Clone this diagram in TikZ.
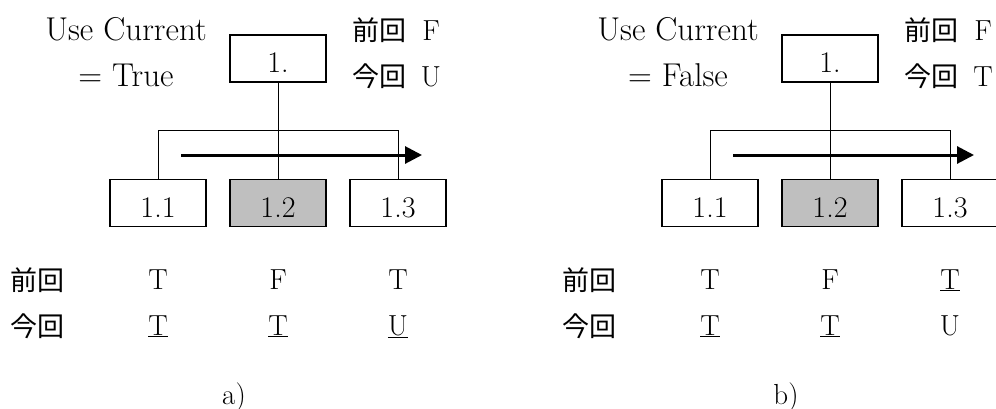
\documentclass[tikz,border=0pt]{standalone}
\usepackage{fontspec}
\newfontfamily\jp{Noto Sans CJK JP}
\usetikzlibrary{arrows.meta}
\tikzset{box/.style={draw, line width=1.2pt, minimum width=96pt, minimum height=47pt,
    inner sep=0pt, text height=28pt, text depth=0pt, font=\fontsize{30}{33}\selectfont},
  txt/.style={anchor=base, inner sep=0pt, font=\fontsize{29}{32}\selectfont},
  big/.style={anchor=base, inner sep=0pt, font=\fontsize{33}{36}\selectfont},
  ja/.style={anchor=base, inner sep=0pt, font=\fontsize{27}{30}\selectfont\jp},
  flow/.style={line width=3pt, -{Triangle[length=17pt,width=17pt]}}}

\begin{document}
\begin{tikzpicture}[x=1pt, y=-1pt]
          \useasboundingbox (0,0) rectangle (996,408);
          % a) Use Current = True
          \node[box] (a1) at (278,58.5) {1.};
          \node[box] (a11) at (158,203) {1.1};
          \node[box, fill=black!25] (a12) at (278,203) {1.2};
          \node[box] (a13) at (398,203) {1.3};
          \draw[line width=1pt] (a1) -- (a12);
          \draw[line width=1pt] (a11.north) -- ++(0,-48) -| (a13.north);
          \coordinate (as) at (181,155);
          \coordinate (ae) at (422,155);
          \draw[flow] (as) -- (ae);
          \node[big] (ause) at (126,40) {Use Current};
          \node[big] (aval) at (126,86) {= True};
          \node[ja]  (aprev) at (379,40) {前回};
          \node[txt] (aprevv) at (431,40) {F};
          \node[ja]  (anow) at (379,86) {今回};
          \node[txt] (anowv) at (431,86) {U};
          \node[ja]  (aprevrow) at (37.5,290) {前回};
          \node[txt] (ap1) at (158,289) {T};
          \node[txt] (ap2) at (278,289) {F};
          \node[txt] (ap3) at (398,289) {T};
          \node[ja]  (anowrow) at (37.5,336) {今回};
          \node[txt] (an1) at (158,335) {\underline{T}};
          \node[txt] (an2) at (278,335) {\underline{T}};
          \node[txt] (an3) at (398,335) {\underline{U}};
          \node[txt] (acap) at (234,404) {a)};
          % b) Use Current = False
          \begin{scope}[xshift=552pt]
          \node[box] (b1) at (278,58.5) {1.};
          \node[box] (b11) at (158,203) {1.1};
          \node[box, fill=black!25] (b12) at (278,203) {1.2};
          \node[box] (b13) at (398,203) {1.3};
          \draw[line width=1pt] (b1) -- (b12);
          \draw[line width=1pt] (b11.north) -- ++(0,-48) -| (b13.north);
          \coordinate (bs) at (181,155);
          \coordinate (be) at (422,155);
          \draw[flow] (bs) -- (be);
          \node[big] (buse) at (126,40) {Use Current};
          \node[big] (bval) at (126,86) {= False};
          \node[ja]  (bprev) at (379,40) {前回};
          \node[txt] (bprevv) at (431,40) {F};
          \node[ja]  (bnow) at (379,86) {今回};
          \node[txt] (bnowv) at (431,86) {T};
          \node[ja]  (bprevrow) at (37.5,290) {前回};
          \node[txt] (bp1) at (158,289) {T};
          \node[txt] (bp2) at (278,289) {F};
          \node[txt] (bp3) at (398,289) {\underline{T}};
          \node[ja]  (bnowrow) at (37.5,336) {今回};
          \node[txt] (bn1) at (158,335) {\underline{T}};
          \node[txt] (bn2) at (278,335) {\underline{T}};
          \node[txt] (bn3) at (398,335) {U};
          \node[txt] (bcap) at (234,404) {b)};
          \end{scope}
        \end{tikzpicture}
\end{document}
